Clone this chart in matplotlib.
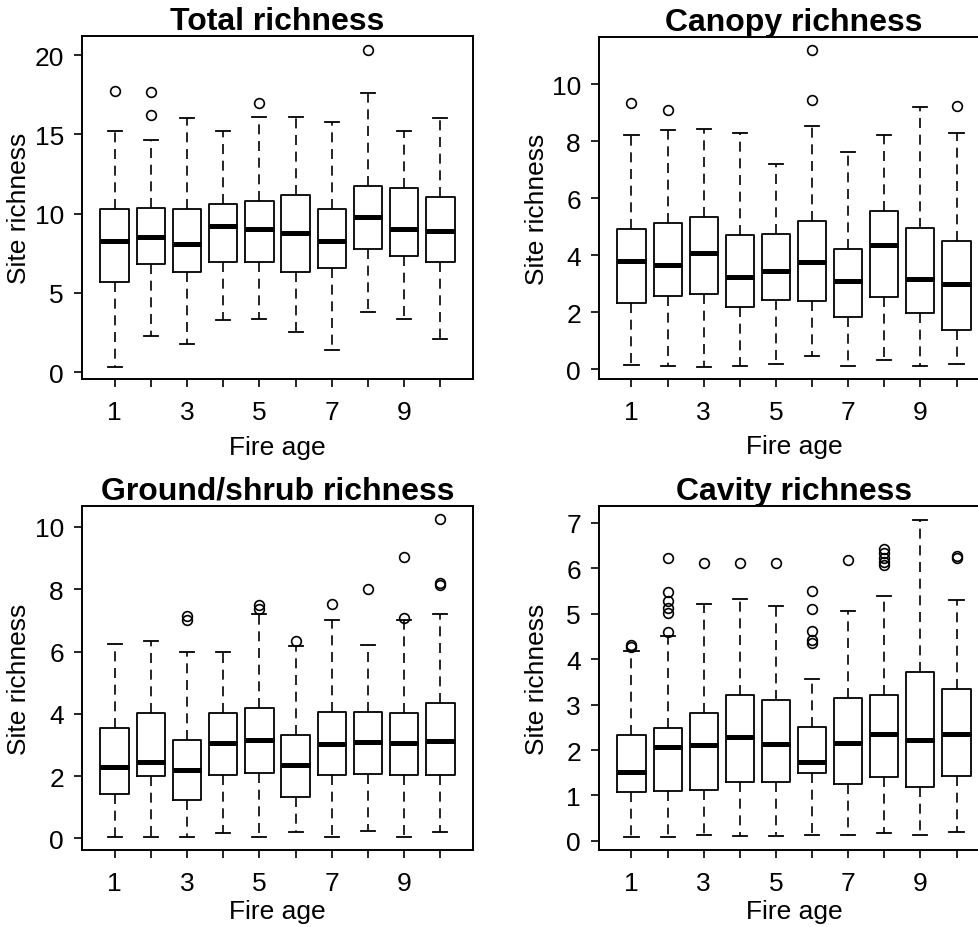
import matplotlib
matplotlib.use("Agg")
import matplotlib.pyplot as plt

plt.rcParams['font.family'] = ['Liberation Sans', 'DejaVu Sans']

fire_age = [1, 2, 3, 4, 5, 6, 7, 8, 9, 10]
age_labels = ['1', '', '3', '', '5', '', '7', '', '9', '']

# Total richness
total_lo = [0.34, 2.27, 1.79, 3.28, 3.33, 2.55, 1.39, 3.79, 3.37, 2.06]
total_q1 = [5.68, 6.80, 6.32, 6.95, 6.95, 6.32, 6.59, 7.79, 7.33, 6.95]
total_med = [8.27, 8.55, 8.06, 9.22, 9.01, 8.74, 8.27, 9.79, 9.01, 8.91]
total_q3 = [10.27, 10.34, 10.27, 10.63, 10.80, 11.16, 10.27, 11.75, 11.64, 11.05]
total_hi = [15.18, 14.65, 16.02, 15.22, 16.06, 16.06, 15.79, 17.60, 15.18, 16.00]
total_out = [[17.75], [17.64, 16.2], [], [], [17.0], [], [], [20.3], [], []]

# Canopy richness
canopy_lo = [0.14, 0.09, 0.07, 0.12, 0.16, 0.44, 0.12, 0.30, 0.12, 0.19]
canopy_q1 = [2.32, 2.57, 2.62, 2.19, 2.43, 2.39, 1.84, 2.54, 1.98, 1.38]
canopy_med = [3.80, 3.66, 4.07, 3.24, 3.43, 3.74, 3.08, 4.36, 3.15, 2.97]
canopy_q3 = [4.91, 5.12, 5.35, 4.70, 4.75, 5.18, 4.21, 5.53, 4.95, 4.48]
canopy_hi = [8.22, 8.39, 8.42, 8.29, 7.19, 8.51, 7.60, 8.21, 9.18, 8.29]
canopy_out = [[9.32], [9.1], [], [], [], [11.19, 9.45], [], [], [], [9.24]]

# Ground/shrub richness
ground_lo = [0.04, 0.06, 0.04, 0.17, 0.04, 0.20, 0.06, 0.23, 0.04, 0.20]
ground_q1 = [1.42, 2.01, 1.25, 2.05, 2.11, 1.33, 2.03, 2.08, 2.03, 2.03]
ground_med = [2.28, 2.46, 2.19, 3.05, 3.16, 2.35, 3.03, 3.10, 3.05, 3.13]
ground_q3 = [3.53, 4.02, 3.16, 4.04, 4.18, 3.32, 4.07, 4.07, 4.04, 4.34]
ground_hi = [6.24, 6.33, 5.98, 6.00, 7.19, 6.17, 7.02, 6.22, 7.02, 7.22]
ground_out = [[], [], [7.15, 7.0], [], [7.48, 7.35], [6.35], [7.51], [8.02],
              [9.04, 7.06], [10.25, 8.21, 8.15]]

# Cavity richness
cavity_lo = [0.09, 0.09, 0.13, 0.10, 0.10, 0.13, 0.13, 0.18, 0.13, 0.19]
cavity_q1 = [1.08, 1.10, 1.13, 1.30, 1.30, 1.50, 1.25, 1.41, 1.19, 1.43]
cavity_med = [1.51, 2.07, 2.10, 2.29, 2.13, 1.74, 2.15, 2.35, 2.21, 2.35]
cavity_q3 = [2.33, 2.49, 2.82, 3.21, 3.10, 2.51, 3.14, 3.21, 3.71, 3.35]
cavity_hi = [4.18, 4.52, 5.22, 5.33, 5.18, 3.57, 5.07, 5.40, 7.07, 5.31]
cavity_out = [[4.32, 4.26], [6.23, 5.48, 5.27, 5.12, 5.01, 4.59], [6.12], [6.12], [6.12],
              [5.49, 5.11, 4.61, 4.43, 4.35], [6.18], [6.43, 6.34, 6.23, 6.14, 6.08], [],
              [6.28, 6.23]]


def draw_panel(ax, title, lo, q1, med, q3, hi, out, yticks, ylim, xlab_y=-0.197):
    stats = []
    for i in range(len(fire_age)):
        stats.append(dict(whislo=lo[i], q1=q1[i], med=med[i], q3=q3[i],
                          whishi=hi[i], fliers=out[i]))
    ax.bxp(stats, positions=fire_age, widths=0.78, capwidths=0.39,
           boxprops=dict(color='black', lw=1.3),
           medianprops=dict(color='black', lw=3.6, solid_capstyle='butt'),
           whiskerprops=dict(color='black', lw=1.2, linestyle=(0, (6, 4))),
           capprops=dict(color='black', lw=1.3),
           flierprops=dict(marker='o', markerfacecolor='none', markeredgecolor='black',
                           markersize=7, markeredgewidth=1.2, linestyle='none'))
    ax.set_xlim(0.1, 10.9)
    ax.set_ylim(ylim)
    ax.set_xticks(fire_age)
    ax.set_xticklabels(age_labels)
    ax.set_yticks(yticks)
    ax.set_yticklabels([str(v) for v in yticks])
    ax.tick_params(direction='out', length=6, width=1.2, labelsize=19)
    ax.tick_params(axis='x', pad=9)
    ax.tick_params(axis='y', pad=7)
    for s in ax.spines.values():
        s.set_linewidth(1.4)
    ax.set_title(title, fontsize=23, fontweight='bold', pad=3)
    ax.set_xlabel('Fire age', fontsize=19)
    ax.set_ylabel('Site richness', fontsize=19)
    ax.yaxis.label.set_va('center')
    ax.xaxis.label.set_va('center')
    ax.yaxis.set_label_coords(-0.16, 0.5)
    ax.xaxis.set_label_coords(0.5, xlab_y)


fig = plt.figure(figsize=(9.79, 9.28), dpi=100)
W, H = 979.0, 928.0
ax1 = fig.add_axes([82 / W, 1 - 380 / H, 391 / W, 343 / H])
ax2 = fig.add_axes([599 / W, 1 - 380 / H, 390 / W, 342 / H])
ax3 = fig.add_axes([82 / W, 1 - 851 / H, 391 / W, 344 / H])
ax4 = fig.add_axes([599 / W, 1 - 851 / H, 390 / W, 344 / H])

draw_panel(ax1, 'Total richness', total_lo, total_q1, total_med, total_q3, total_hi,
           total_out, [0, 5, 10, 15, 20], (-0.44, 21.2))
draw_panel(ax2, 'Canopy richness', canopy_lo, canopy_q1, canopy_med, canopy_q3, canopy_hi,
           canopy_out, [0, 2, 4, 6, 8, 10], (-0.35, 11.65))
draw_panel(ax3, 'Ground/shrub richness', ground_lo, ground_q1, ground_med, ground_q3,
           ground_hi, ground_out, [0, 2, 4, 6, 8, 10], (-0.37, 10.67), xlab_y=-0.177)
draw_panel(ax4, 'Cavity richness', cavity_lo, cavity_q1, cavity_med, cavity_q3, cavity_hi,
           cavity_out, [0, 1, 2, 3, 4, 5, 6, 7], (-0.2, 7.37), xlab_y=-0.177)

fig.savefig('out.png', dpi=100)
